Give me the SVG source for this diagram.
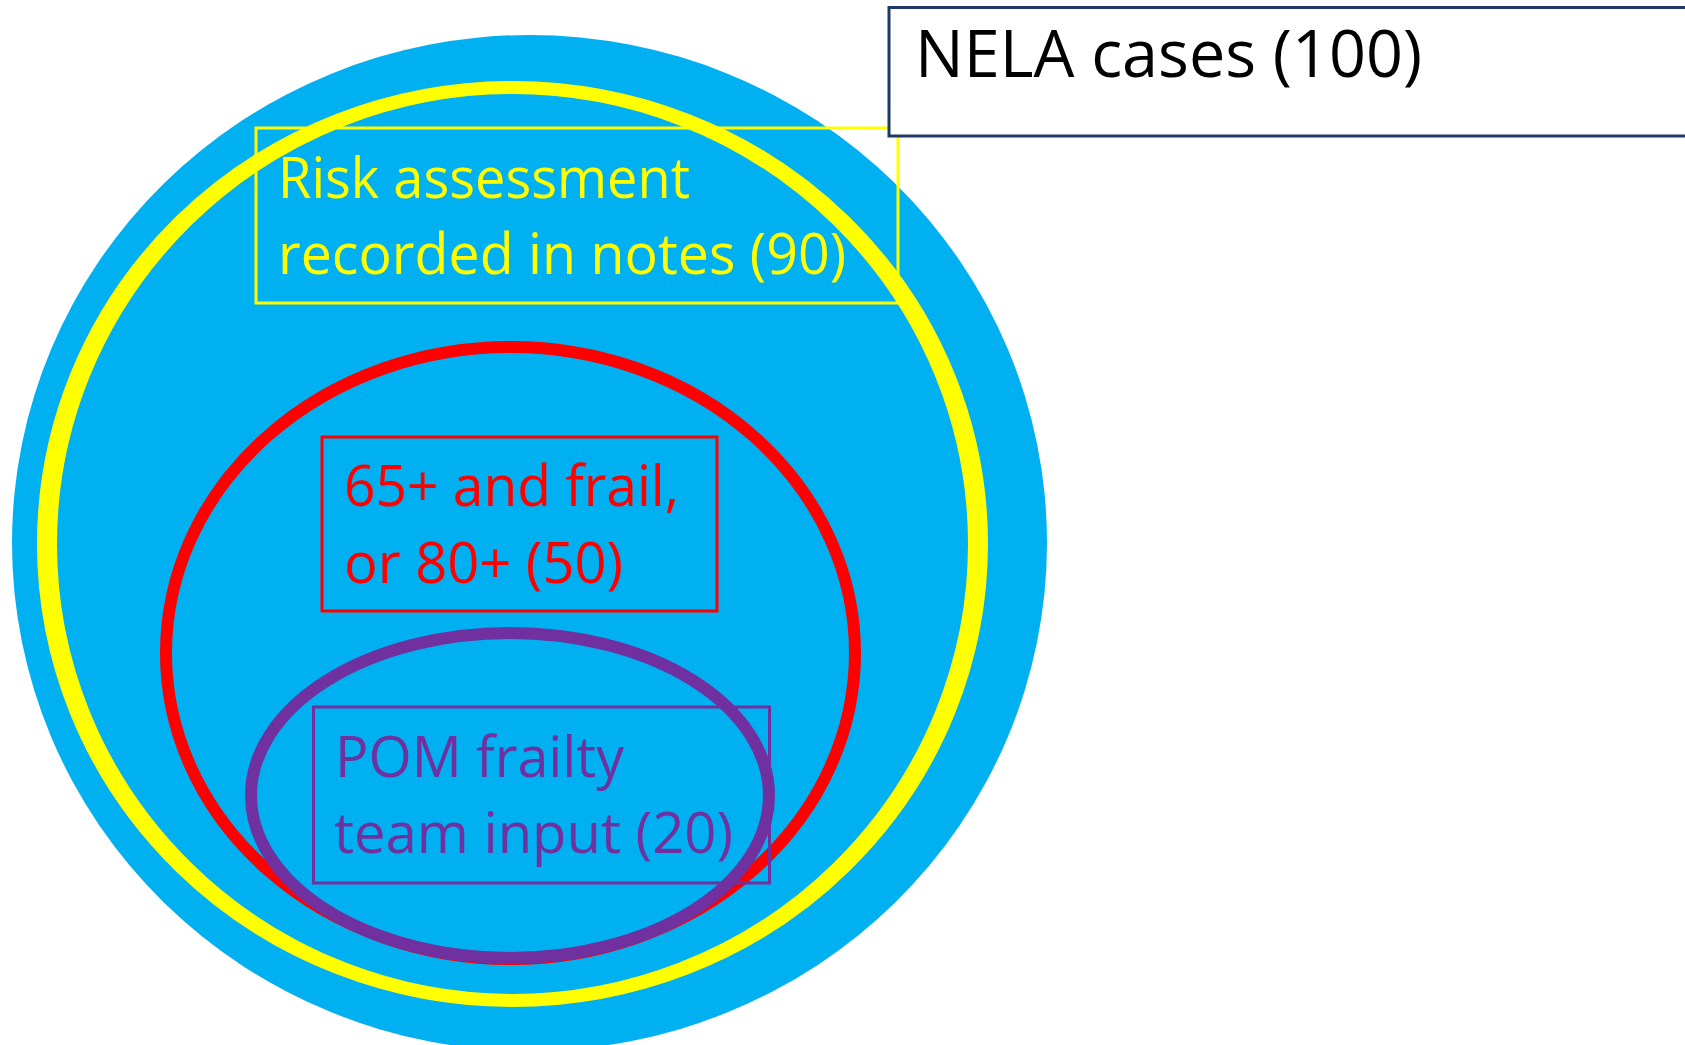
<svg xmlns="http://www.w3.org/2000/svg" width="1685" height="1045" viewBox="0 0 1685 1045">
<style>
.lbl{font-family:"Open Sans","Liberation Sans",sans-serif;font-size:57px}
.box{fill:none;stroke-width:3}
</style>
<rect width="1685" height="1045" fill="#FFFFFF"/>
<g id="nela-area">
<ellipse cx="529.5" cy="543" rx="517.5" ry="508" fill="#00B0F0"/>
</g>
<g id="risk-assessment">
<g transform="translate(512.5,544) scale(1,0.65)">
<ellipse cx="0" cy="0" rx="465.5" ry="702.3" fill="none" stroke="#FFFF00" stroke-width="20"/>
</g>
<rect class="box" x="256" y="128" width="642" height="175" stroke="#FFFF00"/>
<text class="lbl" fill="#FFFF00" x="278" y="198" textLength="412" lengthAdjust="spacingAndGlyphs">Risk assessment</text>
<text class="lbl" fill="#FFFF00" x="278" y="274" textLength="568" lengthAdjust="spacingAndGlyphs">recorded in notes (90)</text>
</g>
<g id="frail">
<ellipse cx="510.5" cy="653" rx="344.5" ry="306" fill="none" stroke="#FF0000" stroke-width="12"/>
<rect class="box" x="322" y="437" width="395" height="174" stroke="#FF0000"/>
<text class="lbl" fill="#FF0000" x="344" y="506" textLength="335" lengthAdjust="spacingAndGlyphs">65+ and frail,</text>
<text class="lbl" fill="#FF0000" x="344" y="583" textLength="279" lengthAdjust="spacingAndGlyphs">or 80+ (50)</text>
</g>
<g id="pom-frailty">
<ellipse cx="510" cy="795.5" rx="259" ry="162.5" fill="none" stroke="#7030A0" stroke-width="12"/>
<rect class="box" x="313.5" y="707" width="456" height="176" stroke="#7030A0"/>
<text class="lbl" fill="#7030A0" x="335" y="777" textLength="289" lengthAdjust="spacingAndGlyphs">POM frailty</text>
<text class="lbl" fill="#7030A0" x="334" y="853" textLength="399" lengthAdjust="spacingAndGlyphs">team input (20)</text>
</g>
<g id="nela-label">
<rect x="889" y="7.5" width="820" height="128.5" fill="#FFFFFF" stroke="#1F3864" stroke-width="3"/>
<text class="lbl" fill="#000000" style="font-size:66px" x="915" y="77" textLength="507" lengthAdjust="spacingAndGlyphs">NELA cases (100)</text>
</g>
<g id="connectors"/>
</svg>
